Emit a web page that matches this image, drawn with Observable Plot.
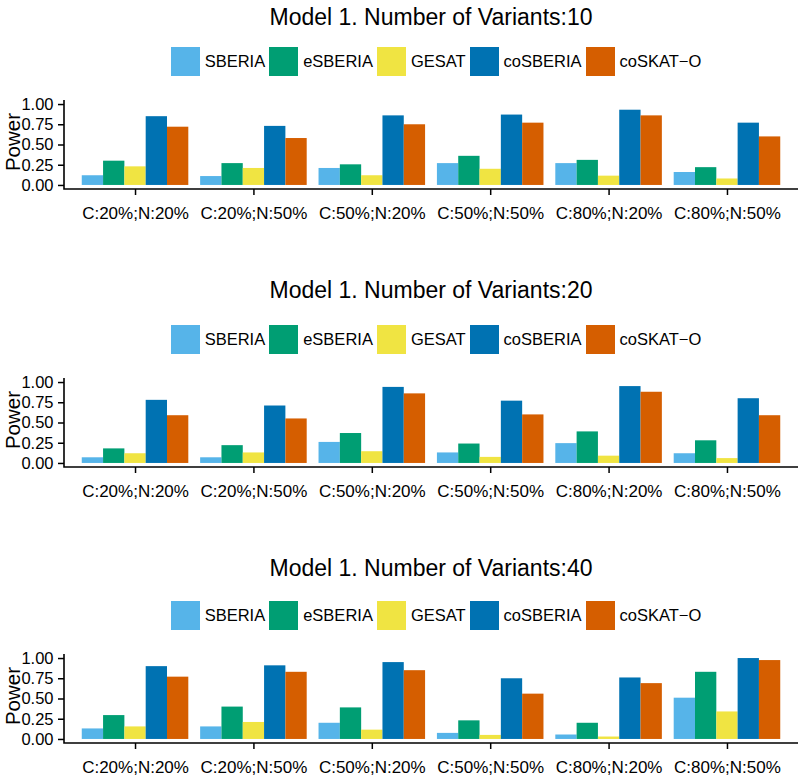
<!DOCTYPE html>
<html>
<head>
<meta charset="utf-8">
<script src="https://cdn.jsdelivr.net/npm/d3@7"></script>
<script src="https://cdn.jsdelivr.net/npm/@observablehq/plot@0.6"></script>
<style>
  html, body { margin: 0; padding: 0; background: #fff; overflow: hidden; }
  body { width: 800px; height: 776px; position: relative; font-family: "Liberation Sans", Arial, sans-serif; color: #000; }
  .panel { position: absolute; left: 0; width: 800px; height: 276px; }
  .title { position: absolute; left: 64px; right: 2px; text-align: center; font-size: 23px; line-height: 23px; white-space: nowrap; }
  .legend { position: absolute; left: 72px; right: 0; height: 29px; display: flex; justify-content: center; align-items: center; }
  .item { display: flex; align-items: center; margin-right: 4px; }
  .item:last-child { margin-right: 0; }
  .sw { width: 29px; height: 29px; margin-right: 5px; }
  .lab { font-size: 16.5px; line-height: 29px; white-space: nowrap; }
  .ylab { position: absolute; left: 11.5px; font-size: 20.5px; line-height: 21px; transform: translate(-50%, -50%) rotate(-90deg); white-space: nowrap; }
  .plotwrap { position: absolute; left: 0; }
</style>
</head>
<body>
<script>
// ---- data ----
const groups = ["C:20%;N:20%", "C:20%;N:50%", "C:50%;N:20%", "C:50%;N:50%", "C:80%;N:20%", "C:80%;N:50%"];
const methods = ["SBERIA", "eSBERIA", "GESAT", "coSBERIA", "coSKAT\u2212O"];
const colors = ["#56B4E9", "#009E73", "#F0E442", "#0072B2", "#D55E00"];
const titles = ["Model 1. Number of Variants:10", "Model 1. Number of Variants:20", "Model 1. Number of Variants:40"];
const yTicks = [0, 0.25, 0.5, 0.75, 1];
const yLabel = "Power";

// values per method (rows follow methods order), columns follow groups order
const power10 = [
  [0.12, 0.11, 0.21, 0.27, 0.27, 0.16],
  [0.30, 0.27, 0.255, 0.36, 0.31, 0.22],
  [0.23, 0.21, 0.12, 0.20, 0.115, 0.08],
  [0.85, 0.73, 0.86, 0.87, 0.93, 0.77],
  [0.72, 0.58, 0.75, 0.77, 0.86, 0.60]
];
const power20 = [
  [0.07, 0.07, 0.26, 0.13, 0.245, 0.12],
  [0.18, 0.22, 0.37, 0.24, 0.39, 0.28],
  [0.12, 0.13, 0.145, 0.075, 0.09, 0.06],
  [0.78, 0.71, 0.94, 0.77, 0.95, 0.80],
  [0.59, 0.55, 0.86, 0.60, 0.88, 0.59]
];
const power40 = [
  [0.13, 0.155, 0.20, 0.075, 0.055, 0.51],
  [0.295, 0.40, 0.39, 0.23, 0.20, 0.83],
  [0.155, 0.21, 0.115, 0.05, 0.03, 0.34],
  [0.90, 0.91, 0.95, 0.75, 0.76, 1.00],
  [0.77, 0.83, 0.85, 0.56, 0.69, 0.975]
];
const panels = [power10, power20, power40];

// ---- layout ----
const panelTops = [0, 278, 554];
const titleCenters = [17, 12, 14];
const dodge = 0.9;                    // total group width (ggplot position_dodge)
const barW = dodge / methods.length;  // width of a single bar in group units

function buildRows(table) {
  const rows = [];
  table.forEach((vals, mi) => {
    vals.forEach((v, gi) => {
      const left = (gi + 1) - dodge / 2 + mi * barW;
      rows.push({group: groups[gi], method: methods[mi], x1: left, x2: left + barW, value: v});
    });
  });
  return rows;
}

function makePlot(table) {
  const rows = buildRows(table);
  const plot = Plot.plot({
    width: 800,
    height: 142,
    marginTop: 20,
    marginBottom: 33,
    marginLeft: 64,
    marginRight: 2,
    style: {fontFamily: "'Liberation Sans', Arial, sans-serif", color: "#000", background: "#fff", overflow: "visible"},
    x: {domain: [0.4, groups.length + 0.6]},
    y: {domain: [-0.05, 1.05]},
    color: {domain: methods, range: colors},
    marks: [
      Plot.rectY(rows, {x1: "x1", x2: "x2", y: "value", fill: "method"}),
      Plot.axisY({ticks: yTicks, tickFormat: d3.format(".2f"), tickSize: 6, tickPadding: 5, fontSize: 16.5, label: null, strokeWidth: 1.5}),
      Plot.axisX({ticks: groups.map((g, i) => i + 1), tickFormat: (d) => groups[d - 1], tickSize: 6, tickPadding: 11, fontSize: 17, label: null, strokeWidth: 1.5})
    ]
  });
  // axis lines (ggplot classic theme), positioned from Plot's own scales
  const xs = plot.scale("x"), ys = plot.scale("y");
  const x0 = xs.range[0], x1 = xs.range[1];
  const yb = ys.apply(ys.domain[0]), yt = ys.apply(ys.domain[1]);
  d3.select(plot).append("path")
    .attr("d", `M${x0},${yt}V${yb}H${x1}`)
    .attr("fill", "none")
    .attr("stroke", "#000")
    .attr("stroke-width", 1.6);
  return plot;
}

panels.forEach((table, p) => {
  const top = panelTops[p];
  const panel = document.createElement("div");
  panel.className = "panel";
  panel.style.top = top + "px";

  const title = document.createElement("div");
  title.className = "title";
  title.style.top = (titleCenters[p] - 11.5) + "px";
  title.textContent = titles[p];
  panel.appendChild(title);

  const legend = document.createElement("div");
  legend.className = "legend";
  legend.style.top = "47px";
  methods.forEach((m, i) => {
    const item = document.createElement("div");
    item.className = "item";
    const sw = document.createElement("div");
    sw.className = "sw";
    sw.style.background = colors[i];
    const lab = document.createElement("span");
    lab.className = "lab";
    lab.textContent = m;
    item.appendChild(sw);
    item.appendChild(lab);
    legend.appendChild(item);
  });
  panel.appendChild(legend);

  const wrap = document.createElement("div");
  wrap.className = "plotwrap";
  wrap.style.top = "80px";
  wrap.appendChild(makePlot(table));
  panel.appendChild(wrap);

  const yl = document.createElement("div");
  yl.className = "ylab";
  yl.style.top = "142px";
  yl.textContent = yLabel;
  panel.appendChild(yl);

  document.body.appendChild(panel);
});
</script>
</body>
</html>
